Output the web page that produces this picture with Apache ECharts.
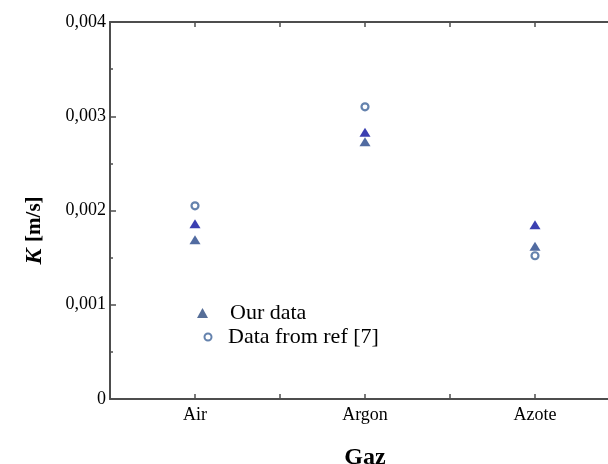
<!DOCTYPE html>
<html>
<head>
<meta charset="utf-8">
<script src="https://cdn.jsdelivr.net/npm/echarts@6/dist/echarts.min.js"></script>
<style>html,body{margin:0;padding:0;background:#fff}#c{width:608px;height:464px}</style>
</head>
<body>
<div id="c"></div>
<script>
const categories = ['Air', 'Argon', 'Azote'];
const ourData = [
  [1, 0.00186], [1, 0.00169],
  [2, 0.00283], [2, 0.00273],
  [3, 0.00185], [3, 0.00162]
];
const refData = [
  [1, 0.00205],
  [2, 0.00310],
  [3, 0.00152]
];
const yTickLabels = ['0', '0,001', '0,002', '0,003', '0,004'];

const serif = '"Liberation Serif", "DejaVu Serif", serif';
const axisColor = '#4d4d4d';
const chart = echarts.init(document.getElementById('c'));

function xLabel(v) {
  const i = Math.round(v) - 1;
  return Math.abs(v - Math.round(v)) < 1e-6 && categories[i] ? categories[i] : '';
}

const legendText = { fontFamily: serif, fontSize: 22, lineHeight: 22, color: '#000' };

chart.setOption({
  animation: false,
  grid: { left: 110, top: 22, width: 510, height: 377, outerBoundsMode: 'none', containLabel: false },
  legend: [{
    orient: 'vertical', left: 192, top: 297,
    itemWidth: 11, itemHeight: 10,
    textStyle: Object.assign({ padding: [0, 0, 0, 17] }, legendText),
    data: [{ name: 'Our data', icon: 'triangle', itemStyle: { color: '#2c4a7e' } }]
  }, {
    orient: 'vertical', left: 198.5, top: 321,
    itemWidth: 7, itemHeight: 7,
    textStyle: Object.assign({ padding: [0, 0, 0, 11.5] }, legendText),
    data: [{ name: 'Data from ref [7]', icon: 'circle' }]
  }],
  xAxis: [{
    type: 'value', min: 0.5, max: 3.5, interval: 0.5,
    name: 'Gaz', nameLocation: 'middle', nameGap: 47,
    nameTextStyle: { fontFamily: serif, fontSize: 24, fontWeight: 'bold', color: '#000' },
    axisLine: { show: true, lineStyle: { color: axisColor, width: 2 } },
    axisTick: { show: true, inside: true, length: 5, lineStyle: { color: axisColor, width: 1.5 } },
    axisLabel: { formatter: xLabel, fontFamily: serif, fontSize: 18, color: '#000', margin: 7 },
    splitLine: { show: false }
  }, {
    type: 'value', position: 'top', min: 0.5, max: 3.5, interval: 0.5,
    axisLine: { show: true, lineStyle: { color: axisColor, width: 2 } },
    axisTick: { show: true, inside: true, length: 5, lineStyle: { color: axisColor, width: 1.5 } },
    axisLabel: { show: false },
    splitLine: { show: false }
  }],
  yAxis: {
    type: 'value', min: 0, max: 0.004, interval: 0.001,
    name: '{k|K}  {u|[m/s]}', nameLocation: 'middle', nameGap: 63,
    nameTextStyle: {
      padding: [0, 40, 0, 0],
      rich: {
        k: { fontFamily: serif, fontSize: 24, fontWeight: 'bold', fontStyle: 'italic', color: '#000' },
        u: { fontFamily: serif, fontSize: 21, fontWeight: 'bold', color: '#000' }
      }
    },
    axisLine: { show: true, lineStyle: { color: axisColor, width: 2 } },
    axisTick: { show: true, inside: true, length: 6, lineStyle: { color: axisColor, width: 1.5 } },
    minorTick: { show: true, splitNumber: 2, length: 3, lineStyle: { color: axisColor, width: 1.5 } },
    axisLabel: {
      formatter: (v) => yTickLabels[Math.round(v / 0.001)] || '',
      fontFamily: serif, fontSize: 18, color: '#000', margin: 4
    },
    splitLine: { show: false }
  },
  series: [{
    name: 'Our data', type: 'scatter', symbol: 'triangle', symbolSize: [11, 9],
    itemStyle: { color: (p) => (p.dataIndex % 2 === 0 ? '#0a0f9e' : '#26468a') },
    data: ourData, z: 3
  }, {
    name: 'Data from ref [7]', type: 'scatter', symbol: 'circle', symbolSize: 7,
    itemStyle: { color: '#fff', borderColor: '#3d6399', borderWidth: 2.2 },
    data: refData, z: 2
  }]
});
</script>
</body>
</html>
